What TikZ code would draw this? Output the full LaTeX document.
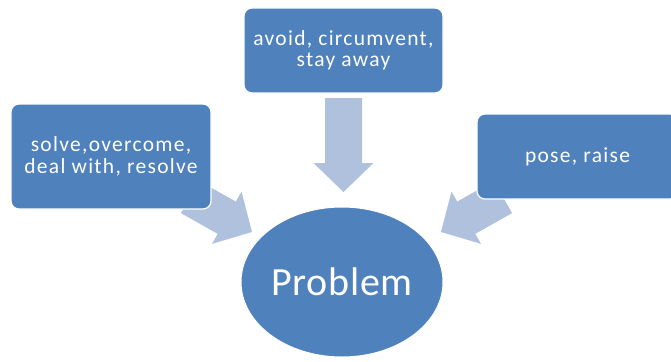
\documentclass[tikz,border=0pt]{standalone}
\usepackage{fontspec}
\setmainfont{Carlito}
\newfontfamily\boxfont[LetterSpace=6]{Carlito}
\newfontfamily\probfont[LetterSpace=2]{Carlito}
\usetikzlibrary{shapes.geometric}
\definecolor{boxblue}{HTML}{4F81BD}
\definecolor{arrowblue}{HTML}{B0C1DD}
\tikzset{
  box/.style={fill=boxblue, draw=white, line width=1.2pt, rounded corners=8pt,
              text=white, align=center, inner sep=0pt,
              font=\boxfont\fontsize{21.5}{21.5}\selectfont},
  probnode/.style={ellipse, fill=boxblue, draw=white, line width=1pt, text=white,
              inner sep=0pt, font=\probfont\fontsize{40}{40}\selectfont},
  blockarrowstyle/.style={fill=arrowblue},
}
% #1 start coordinate name, #2 angle, #3 length
\newcommand\blockarr[3]{%
  \fill[blockarrowstyle, shift={(#1)}, rotate=#2]
    (0,-18.5) -- ({#3-29},-18.5) -- ({#3-29},-30) -- (#3,0)
    -- ({#3-29},30) -- ({#3-29},18.5) -- (0,18.5) -- cycle;}
\begin{document}
\begin{tikzpicture}[x=1pt,y=-1pt]
\useasboundingbox (0,0) rectangle (671,361);
\clip (0,0) rectangle (671,361);
\coordinate (topstart) at (343.5,98);
\coordinate (leftstart) at (190,197);
\coordinate (rightstart) at (503,197);
\blockarr{topstart}{-90}{94}
\blockarr{leftstart}{-29.4}{71.2}
\blockarr{rightstart}{-150.6}{71.2}
\node[box, minimum width=200pt, minimum height=105pt] (solve) at (111,156.5)
  {solve,overcome,\\deal with, resolve};
\node[box, minimum width=199pt, minimum height=85pt] (avoid) at (343.5,50.5)
  {avoid, circumvent,\\stay away};
\node[box, minimum width=201pt, minimum height=85pt] (pose) at (577.5,156.5)
  {pose, raise};
\node[probnode, minimum width=202pt, minimum height=150pt] (problem) at (342,282)
  {Problem};
\end{tikzpicture}
\end{document}
